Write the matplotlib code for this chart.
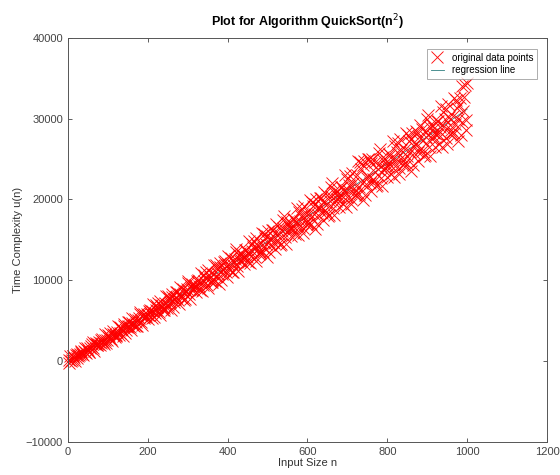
import numpy as np
import matplotlib.pyplot as plt

plt.rcParams["font.family"] = ["Liberation Sans", "DejaVu Sans"]

# input sizes: two interleaved runs, n = 4, 8, ..., 1000 and n = 2, 6, ..., 998
input_size_a = np.arange(4, 1001, 4)
input_size_b = np.arange(2, 1000, 4)

time_vals_a = [
    182, 14, 617, 414, 737, 360, 788, 1146, 874, 1230,
    1103, 1621, 1105, 1623, 2097, 1581, 2100, 1944, 2148, 1947,
    2648, 2378, 2657, 2222, 3216, 3111, 2730, 3670, 3234, 3183,
    3648, 3244, 4269, 3800, 4305, 3511, 4211, 4782, 4182, 4752,
    4448, 5240, 4306, 5098, 5814, 4881, 5672, 5339, 5605, 5195,
    6262, 5785, 6157, 5425, 6902, 6680, 6032, 7425, 6692, 6553,
    7201, 6560, 8008, 7272, 7960, 6749, 7722, 8506, 7579, 8360,
    7879, 8944, 7593, 8658, 9617, 8267, 9331, 8821, 9150, 8532,
    9962, 9278, 9743, 8714, 10674, 10335, 9420, 11266, 10236, 10009,
    10839, 9961, 11832, 10829, 11700, 10072, 11318, 12315, 11061, 12055,
    11397, 12735, 10967, 12305, 13507, 11740, 13077, 12390, 12782, 11956,
    13748, 12857, 13415, 12089, 14532, 14076, 12894, 15193, 13866, 13551,
    14565, 13450, 15744, 14474, 15528, 13483, 15002, 16212, 14631, 15836,
    15001, 16612, 14427, 16038, 17483, 15299, 16909, 16045, 16500, 15466,
    17621, 16523, 17174, 15551, 18477, 17904, 16455, 19207, 17583, 17180,
    18376, 17024, 19741, 18204, 19441, 16979, 18771, 20194, 18286, 19704,
    18691, 20575, 17973, 19857, 21545, 18944, 20827, 19786, 20304, 19062,
    21581, 20276, 21020, 19100, 22509, 21819, 20103, 23308, 21387, 20895,
    23075, 20686, 24626, 22022, 24242, 20563, 22628, 25064, 22029, 24458,
    22468, 24625, 21606, 23763, 25694, 22676, 24832, 23614, 24195, 22745,
    25626, 24114, 24951, 22734, 26626, 25819, 23836, 27494, 25276, 24697,
    26259, 24433, 27996, 25925, 27528, 24232, 26570, 28419, 25857, 27698,
    26331, 28761, 25325, 27755, 29929, 26494, 28923, 27528, 28172, 26514,
    29758, 28039, 28969, 26455, 30830, 29906, 27656, 31767, 29252, 28585,
    30330, 28267, 32253, 29915, 31701, 27988, 34000, 32661, 29772, 34400,
]

time_vals_b = [
    -174, 582, 189, 577, 46, 941, 594, 891, 1234, 701,
    1669, 1050, 1408, 1094, 1818, 2359, 1314, 2282, 2030, 2327,
    2245, 2715, 2119, 3335, 2561, 2889, 3500, 2514, 3410, 2991,
    3050, 4314, 3527, 4135, 3102, 4612, 3907, 4351, 4876, 3843,
    5351, 4364, 4848, 4321, 5357, 6118, 4486, 5891, 5455, 5846,
    5675, 6308, 5395, 7110, 5939, 6366, 7204, 5725, 6976, 6319,
    6387, 8088, 6963, 7760, 6296, 8336, 7324, 7895, 8578, 7112,
    9118, 7762, 8373, 7632, 8981, 9962, 7744, 9586, 8967, 9453,
    9194, 9980, 8770, 10953, 9410, 9930, 10981, 9040, 10624, 9744,
    9808, 11946, 10483, 11469, 9574, 12144, 10825, 11523, 12364, 10467,
    12973, 11248, 11986, 11031, 12693, 13894, 11090, 13369, 12567, 13148,
    12796, 13745, 12218, 14900, 12960, 13579, 14857, 12423, 14362, 13244,
    13318, 15893, 14092, 15267, 12941, 16041, 14415, 15240, 16239, 13909,
    16913, 14819, 15684, 14515, 16490, 17911, 14521, 17237, 16252, 16928,
    16487, 17594, 15760, 18925, 16601, 17316, 18814, 15903, 18185, 16837,
    16912, 19924, 17785, 19149, 16392, 20022, 18089, 19041, 20198, 17437,
    20940, 18477, 19469, 18086, 20374, 22015, 18039, 21192, 20024, 20795,
    20264, 21529, 19388, 23037, 20328, 21139, 22857, 19468, 22095, 20515,
    20595, 24744, 21567, 23820, 19932, 24792, 21852, 22931, 24946, 21052,
    25053, 22221, 23340, 21743, 24344, 26205, 21643, 25233, 23882, 24748,
    24127, 25550, 23102, 27234, 24141, 25048, 26986, 23120, 26090, 24281,
    24362, 28248, 25433, 27175, 23556, 28246, 25699, 26905, 28378, 24752,
    29253, 26052, 27298, 25487, 28401, 30482, 25334, 29361, 27827, 28788,
    28076, 29657, 26902, 31518, 28040, 29043, 31201, 26857, 30172, 28132,
    28212, 32549, 29385, 31322, 27258, 32495, 29631, 30968, 34104, 28532,
]

x_ticks = [0, 200, 400, 600, 800, 1000, 1200]
y_ticks = [-10000, 0, 10000, 20000, 30000, 40000]

n_all = np.concatenate([input_size_a, input_size_b])
u_all = np.concatenate([time_vals_a, time_vals_b])
order = np.argsort(n_all)
n_all, u_all = n_all[order], u_all[order]

fig = plt.figure(figsize=(5.6, 4.75), dpi=100)
ax = fig.add_axes([0.121, 0.0695, 0.856, 0.851])

# quadratic regression through the data (sits underneath the points)
coef = np.polyfit(n_all, u_all, 2)
fit = np.polyval(coef, n_all)
ax.plot(n_all, fit, color="#2f7f80", lw=0.6, zorder=1, label="regression line")

ax.plot(n_all, u_all, "x", color="red", ms=8, mew=0.65, alpha=0.95,
        clip_on=False, zorder=2, label="original data points")

ax.set_xlim(0, 1200)
ax.set_ylim(-10000, 40000)
ax.set_xticks(x_ticks)
ax.set_yticks(y_ticks)
ax.tick_params(direction="in", top=True, right=True, labelsize=8,
               colors="#444444", length=3, width=0.6)
for s in ax.spines.values():
    s.set_color("#555555")
    s.set_linewidth(0.7)

ax.set_title("Plot for Algorithm QuickSort(n$^2$)", fontsize=9,
             fontweight="bold", pad=8)
ax.set_xlabel("Input Size n", fontsize=8, labelpad=1, color="#333333")
ax.set_ylabel("Time Complexity u(n)", fontsize=8, labelpad=2, color="#333333")

h, l = ax.get_legend_handles_labels()
leg = ax.legend(h[::-1], l[::-1], loc="upper right", fontsize=7,
                fancybox=False, edgecolor="#888888", handlelength=1.4,
                borderpad=0.4, labelspacing=0.3, bbox_to_anchor=(0.99, 0.985))
leg.get_frame().set_linewidth(0.6)

fig.savefig("out.png", dpi=100)
